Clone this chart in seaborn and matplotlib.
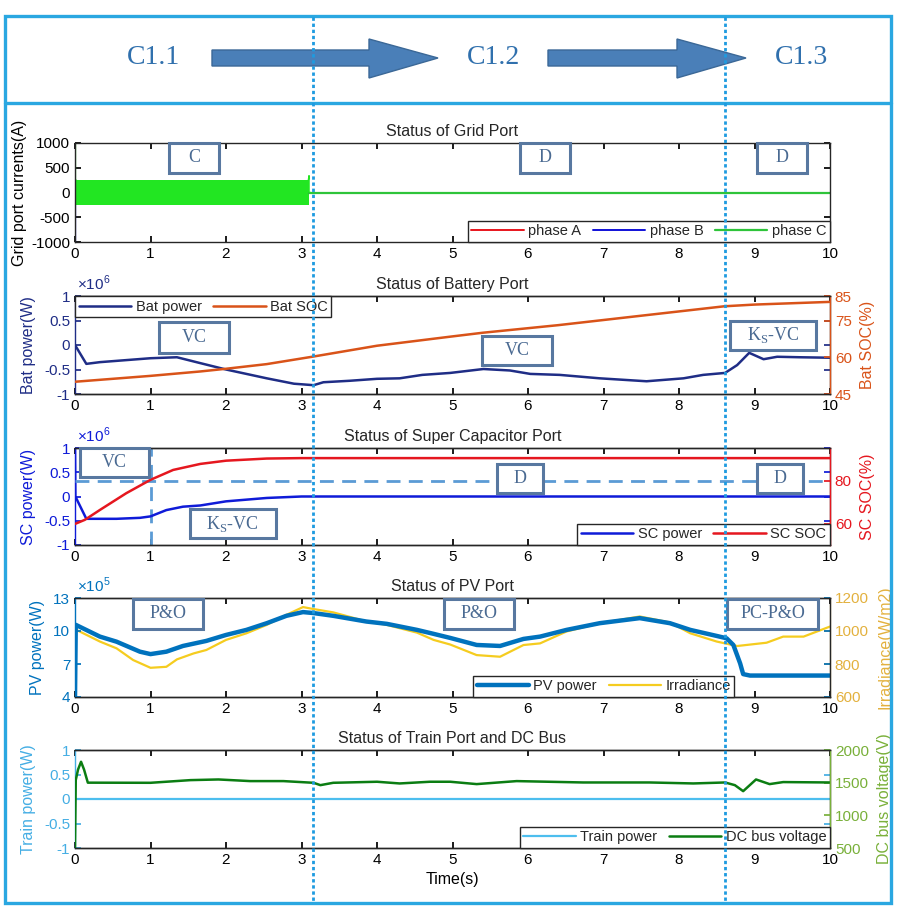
import matplotlib
matplotlib.use("Agg")
import matplotlib.pyplot as plt
import matplotlib.patches as mpatches
from matplotlib.lines import Line2D
import seaborn as sns

# ─── Style ──────────────────────────────────────────────────────────────────
sns.set_theme(style="ticks")
plt.rcParams.update({
    "axes.linewidth": 1.0,
    "axes.edgecolor": "#262626",
    "axes.unicode_minus": False,
    "xtick.direction": "in",
    "ytick.direction": "in",
    "xtick.major.size": 4.5,
    "ytick.major.size": 4.5,
    "xtick.labelsize": 11,
    "ytick.labelsize": 11,
    "xtick.color": "black",
    "axes.labelsize": 11.5,
    "axes.labelpad": 6,
    "axes.titlesize": 11.5,
    "legend.fontsize": 10.5,
    "mathtext.fontset": "custom",
    "mathtext.rm": "Liberation Sans",
})
plt.rcParams["font.family"] = ["Liberation Sans", "DejaVu Sans"]

NAVY = "#1f2d86"
ORANGE = "#d95319"
SC_BLUE = "#0f1bd8"
SC_RED = "#e5171f"
REF_DASH = "#5b9bd5"
PV_BLUE = "#0072bd"
IRR_LINE = "#f5cc1f"
IRR_AXIS = "#e3b13e"
TRAIN = "#4dbeee"
TRAIN_AXIS = "#45aee4"
DC_GREEN = "#0b7d12"
DC_AXIS = "#79b03a"
BOX_EDGE = "#5878a0"
BOX_TEXT = "#4a6a92"
FRAME = "#2aa7e1"
HEADER_TXT = "#3070ad"
ARROW_FILL = "#4a7fb8"

# ─── Data ───────────────────────────────────────────────────────────────────
phase_switch_t = [3.15, 8.61]
stage_names = ["C1.1", "C1.2", "C1.3"]

# grid port: 3-phase envelope while charging, then zero
grid_band_t = [0.0, 3.1]
grid_band_hi = [245, 245]
grid_band_lo = [-245, -245]
grid_tail_t = [3.1, 10.0]
grid_tail_i = [0, 0]
grid_c_spike_t = [0.0, 0.0, 0.01]
grid_c_spike_i = [1000, 250, 245]
grid_b_spike_t = [0.0, 0.0]
grid_b_spike_i = [-250, -1000]
grid_c_end_t = [3.09, 3.1, 3.1, 3.12]
grid_c_end_i = [245, 340, 0, 0]

# battery port (power in 1e6 W, SOC in %)
bat_t = [0, 0.15, 0.33, 1.0, 1.35, 1.66, 2.0, 2.54, 2.9, 3.16, 3.29, 3.64, 4.0,
         4.3, 4.6, 4.97, 5.41, 5.76, 6.03, 6.42, 6.95, 7.57, 8.06, 8.32, 8.61,
         8.77, 8.93, 9.12, 9.3, 9.6, 10.0]
bat_p = [0, -0.385, -0.35, -0.27, -0.25, -0.37, -0.5, -0.68, -0.79, -0.82, -0.76,
         -0.73, -0.69, -0.68, -0.61, -0.57, -0.49, -0.52, -0.59, -0.61, -0.68,
         -0.74, -0.68, -0.61, -0.57, -0.41, -0.16, -0.29, -0.24, -0.25, -0.26]
bat_soc_t = [0, 1.0, 1.66, 2.0, 2.54, 3.16, 4.0, 4.97, 5.4, 6.4, 7.57, 8.6, 9.0, 10.0]
bat_soc = [50.0, 52.4, 54.2, 55.3, 57.2, 60.3, 64.7, 68.4, 70.0, 73.1, 77.2, 80.8, 81.5, 82.6]

# super capacitor port
sc_t = [0, 0.005, 0.15, 0.55, 0.86, 1.0, 1.21, 1.43, 1.66, 2.0, 2.54, 3.0, 10.0]
sc_p = [1.0, 0.0, -0.46, -0.46, -0.44, -0.41, -0.28, -0.21, -0.185, -0.10, -0.03, 0.0, 0.0]
sc_soc_t = [0, 0.13, 0.33, 0.68, 1.0, 1.3, 1.66, 2.0, 2.54, 3.0, 10.0]
sc_soc = [60.0, 61.9, 66.5, 74.3, 80.5, 85.1, 87.9, 89.4, 90.4, 90.6, 90.6]
sc_ref_t = 1.0
sc_ref_soc = 80.0

# PV port (power in 1e5 W, irradiance in W/m2)
pv_t = [0, 0.01, 0.33, 0.55, 0.86, 1.0, 1.21, 1.43, 1.74, 2.0, 2.27, 2.54, 2.8,
        3.02, 3.16, 3.42, 3.86, 4.13, 4.53, 4.75, 4.97, 5.32, 5.63, 5.94, 6.16,
        6.51, 6.95, 7.48, 7.88, 8.15, 8.5, 8.63, 8.72, 8.81, 8.85, 8.94, 10.0]
pv_p = [4.0, 10.56, 9.49, 9.03, 8.12, 7.9, 8.12, 8.64, 9.1, 9.64, 10.1, 10.71, 11.38,
        11.72, 11.63, 11.38, 10.86, 10.65, 10.1, 9.74, 9.37, 8.73, 8.64, 9.28, 9.49,
        10.1, 10.71, 11.17, 10.71, 10.1, 9.55, 9.34, 8.73, 7.05, 6.08, 5.95, 5.95]
irr_t = [0, 0.33, 0.55, 0.77, 1.0, 1.21, 1.35, 1.57, 1.74, 2.0, 2.27, 2.54, 2.8,
         3.02, 3.16, 3.42, 3.86, 4.13, 4.53, 4.75, 4.97, 5.32, 5.63, 5.94, 6.16,
         6.51, 6.95, 7.48, 7.88, 8.15, 8.5, 8.77, 9.16, 9.38, 9.65, 10.0]
irr_v = [1011, 936, 895, 824, 777, 783, 828, 864, 885, 946, 986, 1037, 1098,
         1145, 1133, 1113, 1058, 1037, 990, 946, 918, 854, 844, 915, 925,
         997, 1047, 1088, 1052, 986, 936, 909, 929, 966, 966, 1027]

# train port and DC bus
train_t = [0.0, 10.0]
train_p = [0.0, 0.0]
dc_t = [0, 0.01, 0.04, 0.08, 0.12, 0.17, 1.0, 1.53, 1.9, 2.32, 2.76, 3.16, 3.25,
        3.42, 4.0, 4.3, 4.7, 4.97, 5.32, 5.85, 6.73, 7.61, 8.19, 8.61, 8.74,
        8.85, 9.02, 9.2, 9.38, 10.0]
dc_v = [500, 1540, 1700, 1820, 1700, 1500, 1498, 1539, 1549, 1524, 1524, 1498, 1462,
        1498, 1514, 1488, 1514, 1514, 1478, 1524, 1503, 1503, 1488, 1503, 1462,
        1370, 1549, 1478, 1509, 1503]

# ─── Layout (pixels of the 901x916 canvas) ──────────────────────────────────
W_PX, H_PX = 901, 916
AX_L, AX_R = 75, 830
PANELS = [(143, 242), (296, 394), (448, 545), (598, 697), (750, 848)]

# mode boxes per panel: text, x0, x1, y0, y1 in axes fraction
BOXES = [
    [("C", 0.1245, 0.1907, 0.697, 1.0), ("D", 0.589, 0.656, 0.697, 1.0),
     ("D", 0.903, 0.970, 0.697, 1.0)],
    [("VC", 0.111, 0.204, 0.418, 0.735), ("VC", 0.539, 0.632, 0.296, 0.592),
     ("K$_\\mathregular{S}$-VC", 0.868, 0.981, 0.449, 0.745)],
    [("VC", 0.0066, 0.098, 0.701, 1.0), ("K$_\\mathregular{S}$-VC", 0.152, 0.266, 0.072, 0.371),
     ("D", 0.559, 0.620, 0.536, 0.835), ("D", 0.903, 0.964, 0.536, 0.835)],
    [("P&O", 0.0768, 0.1695, 0.687, 0.99), ("P&O", 0.489, 0.581, 0.687, 0.99),
     ("PC-P&O", 0.864, 0.984, 0.687, 0.99)],
    [],
]


def fx(px):
    return px / W_PX


def fy(py):
    return 1 - py / H_PX


def panel_axes(fig, i):
    top, bottom = PANELS[i]
    return fig.add_axes([fx(AX_L), fy(bottom), (AX_R - AX_L) / W_PX, (bottom - top) / H_PX])


def draw_line(ax, t, v, color, lw, label=None, **kw):
    sns.lineplot(x=t, y=v, ax=ax, color=color, linewidth=lw, estimator=None,
                 sort=False, label=label, legend=False, **kw)
    return ax.lines[-1]


def base_style(ax, title):
    ax.set_xlim(0, 10)
    ax.set_xticks(range(11))
    ax.tick_params(axis="x", top=True, bottom=True, colors="black")
    ax.set_title(title, pad=5)


def left_style(ax, color, label, lim, ticks):
    ax.set_ylim(*lim)
    ax.set_yticks(ticks)
    ax.set_ylabel(label, color=color)
    ax.tick_params(axis="y", colors=color, right=True, left=True)
    ax.spines["left"].set_color(color)


def right_style(ax2, color, label, lim, ticks, spine=None):
    ax2.set_ylim(*lim)
    ax2.set_yticks(ticks)
    ax2.set_ylabel(label, color=color)
    ax2.tick_params(axis="y", colors=color)
    ax2.spines["right"].set_color(spine or color)
    ax2.spines["left"].set_visible(False)


def add_boxes(ax, i):
    for text, x0, x1, y0, y1 in BOXES[i]:
        ax.add_patch(mpatches.Rectangle((x0, y0), x1 - x0, y1 - y0, transform=ax.transAxes,
                                        facecolor="white", edgecolor=BOX_EDGE, lw=2.2,
                                        zorder=6, clip_on=False))
        ax.text((x0 + x1) / 2, (y0 + y1) / 2, text, transform=ax.transAxes, ha="center",
                va="center", family="Liberation Serif", fontsize=13, color=BOX_TEXT, zorder=7)


def add_legend(ax, handles, loc, anchor):
    leg = ax.legend(handles=handles, loc=loc, bbox_to_anchor=anchor, ncol=len(handles),
                    frameon=True, fancybox=False, framealpha=1, edgecolor="#262626",
                    borderaxespad=0, borderpad=0.25, handlelength=3.6, handletextpad=0.3,
                    columnspacing=0.8)
    leg.get_frame().set_linewidth(1.0)
    leg.set_zorder(8)


def offset_label(ax, text, color):
    ax.text(0.003, 1.03, text, transform=ax.transAxes, color=color, fontsize=11,
            ha="left", va="bottom")


fig = plt.figure(figsize=(W_PX / 100, H_PX / 100), dpi=100)

# ─── 1. Grid port ───────────────────────────────────────────────────────────
ax = panel_axes(fig, 0)
for col in ["#e8141c", "#1010d8", "#22e622"]:
    ax.fill_between(grid_band_t, grid_band_lo, grid_band_hi, color=col, lw=0)
hA = draw_line(ax, grid_tail_t, grid_tail_i, "#e8141c", 1.4, "phase A")
hB = draw_line(ax, grid_tail_t, grid_tail_i, "#1010d8", 1.4, "phase B")
hC = draw_line(ax, grid_tail_t, grid_tail_i, "#2ec43a", 1.6, "phase C")
draw_line(ax, grid_b_spike_t, grid_b_spike_i, "#1010d8", 1.6)
draw_line(ax, grid_c_spike_t, grid_c_spike_i, "#22e622", 1.6)
draw_line(ax, grid_c_end_t, grid_c_end_i, "#22e622", 1.0)
base_style(ax, "Status of Grid Port")
ax.set_ylim(-1000, 1000)
ax.set_yticks([-1000, -500, 0, 500, 1000])
ax.tick_params(axis="y", right=True, colors="black")
ax.set_ylabel("Grid port currents(A)", color="black", labelpad=3)
add_boxes(ax, 0)
add_legend(ax, [hA, hB, hC], "lower right", (1, 0))

# ─── 2. Battery port ────────────────────────────────────────────────────────
ax = panel_axes(fig, 1)
ax2 = ax.twinx()
h1 = draw_line(ax, bat_t, bat_p, NAVY, 1.8, "Bat power")
h2 = draw_line(ax2, bat_soc_t, bat_soc, ORANGE, 1.8, "Bat SOC")
base_style(ax, "Status of Battery Port")
left_style(ax, NAVY, "Bat power(W)", (-1, 1), [-1, -0.5, 0, 0.5, 1])
right_style(ax2, ORANGE, "Bat SOC(%)", (45, 85), [45, 60, 75, 85])
ax.set_yticklabels(["-1", "-0.5", "0", "0.5", "1"])
offset_label(ax, "×10$^{6}$", NAVY)
add_boxes(ax2, 1)
add_legend(ax2, [h1, h2], "upper left", (0, 1))

# ─── 3. Super capacitor port ────────────────────────────────────────────────
ax = panel_axes(fig, 2)
ax2 = ax.twinx()
ax.axvline(sc_ref_t, color=REF_DASH, lw=2, ls=(0, (5, 3)))
ax2.axhline(sc_ref_soc, color=REF_DASH, lw=2, ls=(0, (5, 3)))
h1 = draw_line(ax, sc_t, sc_p, SC_BLUE, 1.8, "SC power")
h2 = draw_line(ax2, sc_soc_t, sc_soc, SC_RED, 1.8, "SC SOC")
base_style(ax, "Status of Super Capacitor Port")
left_style(ax, SC_BLUE, "SC power(W)", (-1, 1), [-1, -0.5, 0, 0.5, 1])
right_style(ax2, SC_RED, "SC SOC(%)", (50.2, 95.3), [60, 80])
ax.set_yticklabels(["-1", "-0.5", "0", "0.5", "1"])
offset_label(ax, "×10$^{6}$", SC_BLUE)
add_boxes(ax2, 2)
add_legend(ax2, [h1, h2], "lower right", (1, 0))

# ─── 4. PV port ─────────────────────────────────────────────────────────────
ax = panel_axes(fig, 3)
ax2 = ax.twinx()
h1 = draw_line(ax, pv_t, pv_p, PV_BLUE, 3.2, "PV power")
h2 = draw_line(ax2, irr_t, irr_v, IRR_LINE, 1.6, "Irradiance")
ax.set_zorder(ax2.get_zorder() + 1)
ax.patch.set_visible(False)
base_style(ax, "Status of PV Port")
left_style(ax, PV_BLUE, "PV power(W)", (4, 13), [4, 7, 10, 13])
right_style(ax2, IRR_AXIS, "Irradiance(W/m2)", (600, 1200), [600, 800, 1000, 1200], "#c9b27a")
offset_label(ax, "×10$^{5}$", PV_BLUE)
add_boxes(ax, 3)
add_legend(ax, [h1, h2], "lower left", (0.527, 0))

# ─── 5. Train port and DC bus ───────────────────────────────────────────────
ax = panel_axes(fig, 4)
ax2 = ax.twinx()
h1 = draw_line(ax, train_t, train_p, TRAIN, 1.6, "Train power")
h2 = draw_line(ax2, dc_t, dc_v, DC_GREEN, 1.8, "DC bus voltage")
base_style(ax, "Status of Train Port and DC Bus")
left_style(ax, TRAIN_AXIS, "Train power(W)", (-1, 1), [-1, -0.5, 0, 0.5, 1])
right_style(ax2, DC_AXIS, "DC bus voltage(V)", (500, 2000), [500, 1000, 1500, 2000])
ax.set_yticklabels(["-1", "-0.5", "0", "0.5", "1"])
ax.set_xlabel("Time(s)", color="black", labelpad=4)
add_legend(ax2, [h1, h2], "lower right", (1, 0))

# ─── Header and frame ───────────────────────────────────────────────────────
fig.add_artist(mpatches.Rectangle((fx(5), fy(903)), fx(886), 887 / H_PX, fill=False,
                                  edgecolor=FRAME, lw=2.4, transform=fig.transFigure))
fig.add_artist(Line2D([fx(5), fx(891)], [fy(103), fy(103)], color=FRAME, lw=2.4,
                      transform=fig.transFigure))

for name, xc in zip(stage_names, [153, 493, 801]):
    fig.text(fx(xc), fy(58), name, ha="center", va="center", family="Liberation Serif",
             fontsize=20, color=HEADER_TXT)

for x0, xh, xt in [(212, 369, 438), (548, 677, 746)]:
    verts = [(x0, 50), (xh, 50), (xh, 39), (xt, 58), (xh, 78), (xh, 66), (x0, 66)]
    fig.add_artist(mpatches.Polygon([(fx(a), fy(b)) for a, b in verts], closed=True,
                                    facecolor=ARROW_FILL, edgecolor="#3b6897", lw=1,
                                    transform=fig.transFigure))

for t in phase_switch_t:
    xpx = AX_L + t / 10 * (AX_R - AX_L)
    fig.add_artist(Line2D([fx(xpx), fx(xpx)], [fy(17), fy(902)], color="#1e9be0", lw=2,
                          ls=(0, (1.2, 1.0)), transform=fig.transFigure, zorder=10))

fig.savefig("out.png", dpi=100, facecolor="white")
